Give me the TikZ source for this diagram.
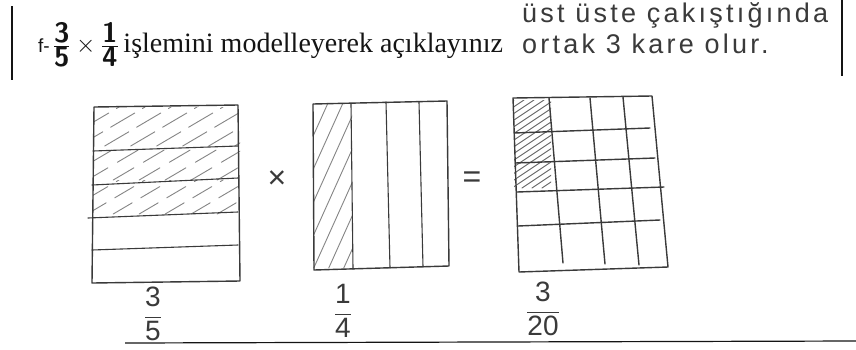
\documentclass[tikz,border=0pt]{standalone}
\usepackage{fontspec}
\setmainfont{Liberation Serif}
\newfontfamily\handfont[LetterSpace=12]{Liberation Sans}
\usetikzlibrary{positioning}
\definecolor{SKPaper}{HTML}{FFFFFF}
\definecolor{SKInk}{HTML}{141414}
\definecolor{SKPencil}{HTML}{3A3A3A}
\definecolor{SKHatch}{HTML}{858585}
\tikzset{
  pencil/.style={SKPencil,line width=1.4pt,line join=round,line cap=round},
  thinpencil/.style={pencil,line width=1.1pt},
  hatch/.style={SKHatch,line width=0.9pt,line cap=round},
  pageedge/.style={SKInk,line width=1.2pt},
  title/.style={text=SKInk,font=\fontsize{28}{32}\selectfont,inner sep=0pt},
  hand/.style={text=SKPencil,font=\handfont\fontsize{27}{29}\selectfont,inner sep=0pt},
  handfrac/.style={text=SKPencil,font=\fontspec{Liberation Sans}\fontsize{28}{30}\selectfont,inner sep=0pt},
  sign/.style={text=SKPencil,font=\fontspec{Liberation Sans}\fontsize{32}{34}\selectfont,inner sep=0pt},
}
% slanted hatching inside a box: x1 y1 x2 y2 run/rise spacing
\newcommand{\hatchbox}[7][]{%
  \begin{scope}
    \clip (#2,#3) rectangle (#4,#5);
    \pgfmathsetmacro{\hrun}{(#5-#3)*#6}
    \pgfmathsetmacro{\hfirst}{#2-\hrun}
    \pgfmathsetmacro{\hsecond}{#2-\hrun+#7}
    \foreach \s in {\hfirst,\hsecond,...,#4}
      \draw[hatch,#1] (\s,#5) -- ++(\hrun,#3-#5);
  \end{scope}%
}

\begin{document}
\begin{tikzpicture}[x=1pt,y=-1pt]
  \useasboundingbox[fill=SKPaper] (0,0) rectangle (856,349);

  % ------------------------------------------------------------ page edges
  \draw[pageedge] (12,6) -- (12,80);
  \draw[pageedge] (842,0) -- (842,76);
  \draw[pageedge] (125,343) -- (856,341);

  % ------------------------------------------------------------- question
  \node[title,anchor=west] (question) at (38,45)
    {{\fontspec{Liberation Sans}\fontsize{19}{20}\selectfont f-}\kern3pt$\frac{\textsf{\bfseries 3}}{\textsf{\bfseries 5}}
     \mathbin{\times}\frac{\textsf{\bfseries 1}}{\textsf{\bfseries 4}}$\,işlemini modelleyerek açıklayınız};
  \node[hand,anchor=west] (noteA) at (522,15) {üst üste çakıştığında};
  \node[hand,anchor=west] (noteB) at (522,44) {ortak 3 kare olur.};

  % ------------------------------------------------------------ 3/5 model
  \hatchbox[dash pattern=on 28pt off 9pt]{93}{107}{240}{146}{1.7}{26}
  \hatchbox[dash pattern=on 24pt off 11pt]{93}{146}{240}{180}{1.7}{26}
  \hatchbox[dash pattern=on 22pt off 10pt]{93}{180}{240}{214}{1.7}{26}
  \draw[pencil] (94,107) -- (238,105) -- (240,281) -- (92,283) -- cycle;
  \draw[thinpencil] (93,151) -- (238,146);
  \draw[thinpencil] (92,185) -- (238,178);
  \draw[thinpencil] (88,218) -- (238,212);
  \draw[thinpencil] (92,250) -- (238,245);
  \node[sign] (times) at (277,180) {×};

  % ------------------------------------------------------------ 1/4 model
  \hatchbox{313}{103}{352}{268}{0.45}{15}
  \draw[pencil] (313,104) -- (447,101) -- (449,266) -- (314,270) -- cycle;
  \draw[thinpencil] (351,104) -- (353,269);
  \draw[thinpencil] (386,102) -- (390,268);
  \draw[thinpencil] (419,102) -- (423,267);
  \node[sign] (equals) at (472,180) {=};

  % ----------------------------------------------------------- 3/20 model
  \hatchbox[SKPencil!80]{514}{100}{551}{188}{1.5}{10}
  \draw[pencil] (513,98) -- (652,96) -- (668,267) -- (519,272) -- cycle;
  \draw[pencil] (549,98) -- (563,263);
  \draw[pencil] (590,98) -- (605,264);
  \draw[pencil] (623,97) -- (639,265);
  \draw[pencil] (514,133) -- (650,128);
  \draw[pencil] (515,163) -- (655,158);
  \draw[pencil] (517,192) -- (664,187);
  \draw[pencil] (518,226) -- (660,220);

  % ------------------------------------------------------------- fractions
  \node[handfrac] (fracA) at (153,314) {$\displaystyle\frac{\mbox{3}}{\mbox{5}}$};
  \node[handfrac] (fracB) at (343,311) {$\displaystyle\frac{\mbox{1}}{\mbox{4}}$};
  \node[handfrac] (fracC) at (543,309) {$\displaystyle\frac{\mbox{3}}{\mbox{20}}$};
\end{tikzpicture}
\end{document}
